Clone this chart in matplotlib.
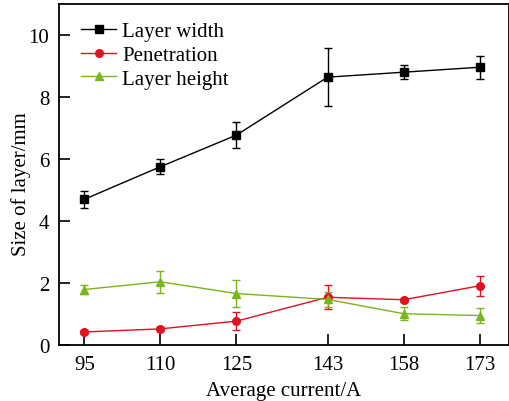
import matplotlib
matplotlib.use("Agg")
import matplotlib.pyplot as plt

current = [95, 110, 125, 143, 158, 173]

width = [4.70, 5.75, 6.77, 8.64, 8.80, 8.96]
width_err = [0.28, 0.24, 0.41, 0.93, 0.22, 0.37]

penetration = [0.42, 0.52, 0.77, 1.54, 1.46, 1.91]
penetration_err = [0.05, 0.05, 0.29, 0.39, 0.07, 0.33]

height = [1.79, 2.04, 1.66, 1.47, 1.01, 0.95]
height_err = [0.15, 0.36, 0.45, 0.23, 0.20, 0.25]

plt.rcParams["font.family"] = ["Liberation Serif", "DejaVu Serif"]

fig = plt.figure(figsize=(5.10, 4.02), dpi=100)
ax = fig.add_axes([59 / 510, 1 - 346 / 402, 450 / 510, 341 / 402])

series = [
    (width, width_err, "black", "s", "Layer width"),
    (penetration, penetration_err, "#e3101f", "o", "Penetration"),
    (height, height_err, "#79b51c", "^", "Layer height"),
]
handles = []
labels = []
for vals, errs, color, marker, label in series:
    c = ax.errorbar(current, vals, yerr=errs, color=color, marker=marker,
                    markersize=5.5, linewidth=1.0, elinewidth=1.0, capsize=3,
                    capthick=1.0)
    handles.append(c.lines[0])
    labels.append(label)

ax.set_xlim(90, 178.8)
ax.set_ylim(0, 11)
ax.set_xticks(current)
ax.set_yticks([0, 2, 4, 6, 8, 10])
ax.tick_params(direction="in", length=8, width=1.2, labelsize=15, pad=7)
for spine in ax.spines.values():
    spine.set_linewidth(1.3)

ax.set_xlabel("Average current/A", fontsize=15, labelpad=5)
ax.set_ylabel("Size of layer/mm", fontsize=15)
ax.yaxis.set_label_coords(-0.062, 0.476)

ax.legend(handles, labels, loc="upper left", frameon=False, fontsize=15,
          handlelength=1.65, handletextpad=0.3, labelspacing=0.2,
          borderaxespad=0.2, bbox_to_anchor=(0.022, 0.985))

fig.savefig("out.png", dpi=100)
